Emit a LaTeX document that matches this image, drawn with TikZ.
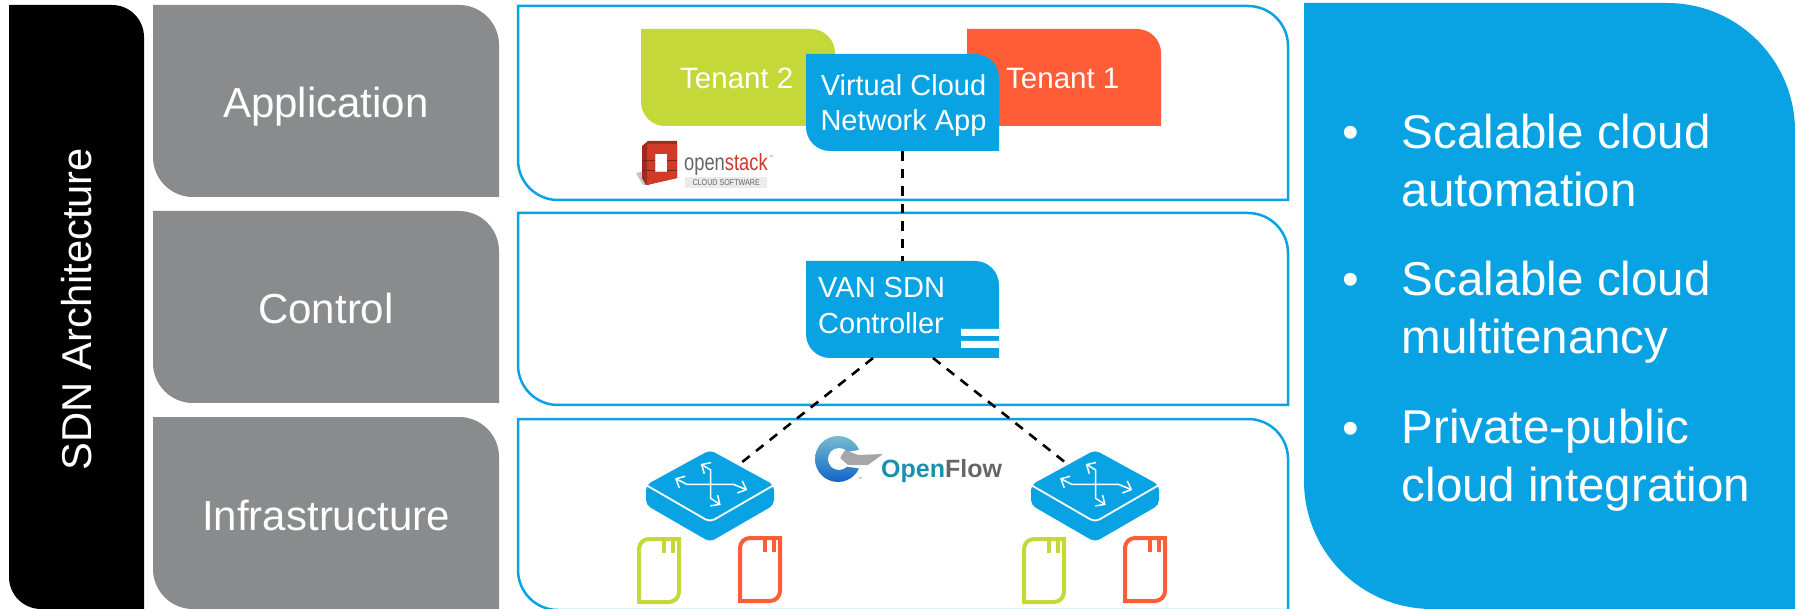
\documentclass[tikz,border=0pt]{standalone}
\usepackage{fontspec}
\setmainfont{Liberation Sans}
\usetikzlibrary{arrows.meta}

\definecolor{sdnblue}{HTML}{09A3E3}
\definecolor{lanegrey}{HTML}{8A8B8D}
\definecolor{tenantgreen}{HTML}{C4D83A}
\definecolor{tenantred}{HTML}{FF5C38}
\definecolor{stackred}{HTML}{D13A26}
\definecolor{flowteal}{HTML}{1A8FB0}

% box with top right and bottom left corners rounded
\newcommand{\cornerbox}[7][]{
  \path[#1] (#3,#4) [rounded corners=#7pt] -- (#5,#4) [sharp corners] -- (#5,#6)
    [rounded corners=#7pt] -- (#3,#6) [sharp corners] -- cycle;
  \node (#2) [inner sep=0pt, minimum width={#5pt-#3pt}, minimum height={#6pt-#4pt}]
    at ({(#3+#5)/2},{(#4+#6)/2}) {};
}

\tikzset{
  lanebox/.style={fill=lanegrey},
  lanepanel/.style={draw=sdnblue, line width=2.5pt, fill=white},
  lanelabel/.style={text=white, inner sep=0pt, text height=34pt, text depth=0pt,
    font=\fontsize{42}{48}\selectfont},
  tenantlabel/.style={text=white, inner sep=0pt, anchor=base west,
    font=\fontsize{29.5}{35}\selectfont},
  boxlabel/.style={text=white, inner sep=0pt, anchor=base west, align=left,
    font=\fontsize{29}{36}\selectfont},
  itemlabel/.style={text=white, inner sep=0pt, anchor=base west, align=left,
    font=\fontsize{47.5}{58}\selectfont},
  link/.style={black, line width=2.6pt, dash pattern=on 9.5pt off 8pt},
  swarrow/.style={white, line width=1.5pt,
    {Straight Barb[length=7pt,width=13pt]}-{Straight Barb[length=7pt,width=13pt]}},
  pics/switchicon/.style={code={
    \coordinate (-nw) at (-29,-33);
    \coordinate (-ne) at (31,-33);
    \fill[sdnblue, rounded corners=5pt] (0,-46) -- (64,-11) -- (64,9) -- (0,46)
      -- (-64,9) -- (-64,-11) -- cycle;
    \draw[white, line width=1.8pt, rounded corners=5pt] (-64,-11) -- (0,26) -- (64,-11);
    \draw[swarrow] (-9.3,-32) -- (0.7,-26) -- (0.7,2.3) -- (10.7,9);
    \draw[swarrow] (-35,-17.7) -- (-23.3,-11.7) -- (23.3,-11.7) -- (37.3,-6);
  }},
  pics/portcard/.style={code={
    \draw[#1, line width=4pt] (2,65) [sharp corners] -- (2,12) [rounded corners=10pt]
      -- (2,2) [sharp corners] -- (42,2) -- (42,55) [rounded corners=10pt] -- (42,65)
      [sharp corners] -- cycle;
    \draw[#1, line width=4pt] (27,2) -- (27,16) (36,2) -- (36,16);
  }}
}

\begin{document}
\begin{tikzpicture}[x=1pt, y=-1pt]
  \useasboundingbox (0,0) rectangle (1799,609);

  % left column
  \cornerbox[fill=black]{archbar}{9}{5}{144}{609}{32}
  \node (archlabel) [text=white, rotate=90, inner sep=0pt, font=\fontsize{41.7}{48}\selectfont]
    at (77,309) {SDN Architecture};

  \cornerbox[lanebox]{applane}{153}{5}{499}{197}{40}
  \cornerbox[lanebox]{ctrllane}{153}{211}{499}{403}{40}
  \cornerbox[lanebox]{infralane}{153}{417}{499}{609}{40}
  \node (applabel) [lanelabel] at (applane) {Application};
  \node (ctrllabel) [lanelabel] at (ctrllane) {Control};
  \node (infralabel) [lanelabel] at (infralane) {Infrastructure};

  % panels
  \cornerbox[lanepanel]{apppanel}{518}{6}{1288}{200}{40}
  \cornerbox[lanepanel]{ctrlpanel}{518}{213}{1288}{405}{40}
  \cornerbox[lanepanel]{infrapanel}{518}{419}{1288}{610}{40}

  % application layer
  \cornerbox[fill=tenantgreen]{tenanttwo}{641}{29}{835}{126}{24}
  \cornerbox[fill=tenantred]{tenantone}{967}{29}{1161}{126}{24}
  \node (twolabel) [tenantlabel] at (680,89) {Tenant 2};
  \node (onelabel) [tenantlabel] at (1006,89) {Tenant 1};
  \cornerbox[fill=sdnblue]{vcnapp}{806}{54}{999}{151}{24}
  \node (vcnlabel) [boxlabel, align=center, anchor=base, font=\fontsize{29}{35}\selectfont]
    at (903.5,131) {Virtual Cloud\\Network App};

  % openstack logo
  \fill[lanegrey!50] (636,173) -- (643,185) -- (650,185) -- (645,171) -- cycle;
  \fill[stackred!75!black, even odd rule] (642,146) -- (648,141) -- (677,141) -- (677,178) -- (646,185) -- (642,178) -- cycle
    (655,154) -- (667,154) -- (667,172) -- (655,172) -- cycle;
  \fill[stackred, even odd rule] (647,144) -- (677,144) -- (677,178) -- (647,185) -- cycle
    (655,154) -- (667,154) -- (667,172) -- (655,172) -- cycle;
  \draw[stackred!60!black, line width=.8pt] (642,160) -- (655,160) (642,170) -- (655,170)
    (667,160) -- (677,160) (667,170) -- (677,170);
  \node (stackword) [anchor=base west, inner sep=0pt, xscale=.78, text=black!60,
    font=\fontsize{23.5}{26}\selectfont] at (684,171) {open\textcolor{stackred}{stack}};
  \node (stackmark) [inner sep=0pt, text=black!60, font=\fontsize{4}{5}\selectfont] at (771,157) {™};
  \node (stacktag) [fill=black!8, minimum width=82pt, minimum height=11pt, inner sep=0pt,
    anchor=north west] at (685,177) {};
  \node (stacksub) [inner sep=0pt, xscale=.84, text=black!60, font=\fontsize{8.5}{9}\selectfont]
    at (stacktag) {CLOUD SOFTWARE};

  % control layer
  \cornerbox[fill=sdnblue]{vansdn}{806}{261}{999}{358}{24}
  \node (vanlabel) [boxlabel] at (818,334) {VAN SDN\\Controller};
  \fill[white] (961,329) rectangle (999,336) (961,341) rectangle (999,348);

  % infrastructure layer
  \pic (swleft) at (710,496) {switchicon};
  \pic (swright) at (1095,496) {switchicon};
  \pic at (637,537) {portcard=tenantgreen};
  \pic at (738,536) {portcard=tenantred};
  \pic at (1022,537) {portcard=tenantgreen};
  \pic at (1123,536) {portcard=tenantred};

  % openflow logo
  \shade[top color=flowteal!60!white, bottom color=flowteal!70!blue] (838,459) circle (23);
  \fill[white] (839,459) circle (11);
  \fill[white] (842,453) -- (864,449) -- (864,469) -- (842,466) -- cycle;
  \fill[black!35, rounded corners=1pt] (845,450) -- (858,455) -- (883,454) -- (868,465)
    -- (848,465) -- (840,458) -- cycle;
  \node (flowmark) [inner sep=0pt, text=black!60, font=\fontsize{4}{5}\selectfont] at (860,479) {™};
  \node (flowword) [anchor=base west, inner sep=0pt, text=flowteal,
    font=\fontsize{25}{28}\bfseries] at (881,477) {Open\textcolor{black!60}{Flow}};

  % links
  \coordinate (vansdnleft) at (873,358);
  \coordinate (vansdnright) at (933,358);
  \draw[link] (vcnapp.south) -- (vansdn.north);
  \draw[link] (vansdnleft) -- (swleft-ne);
  \draw[link] (vansdnright) -- (swright-nw);

  % right column
  \cornerbox[fill=sdnblue]{benefits}{1304}{3}{1795}{609}{128}
  \node (bulletone) [itemlabel] at (1342,149) {•};
  \node (bullettwo) [itemlabel] at (1342,296) {•};
  \node (bulletthree) [itemlabel] at (1342,444) {•};
  \node (itemone) [itemlabel] at (1401.5,207) {Scalable cloud\\automation};
  \node (itemtwo) [itemlabel] at (1401.5,354) {Scalable cloud\\multitenancy};
  \node (itemthree) [itemlabel] at (1401.5,501) {Private-public\\cloud integration};
\end{tikzpicture}
\end{document}
